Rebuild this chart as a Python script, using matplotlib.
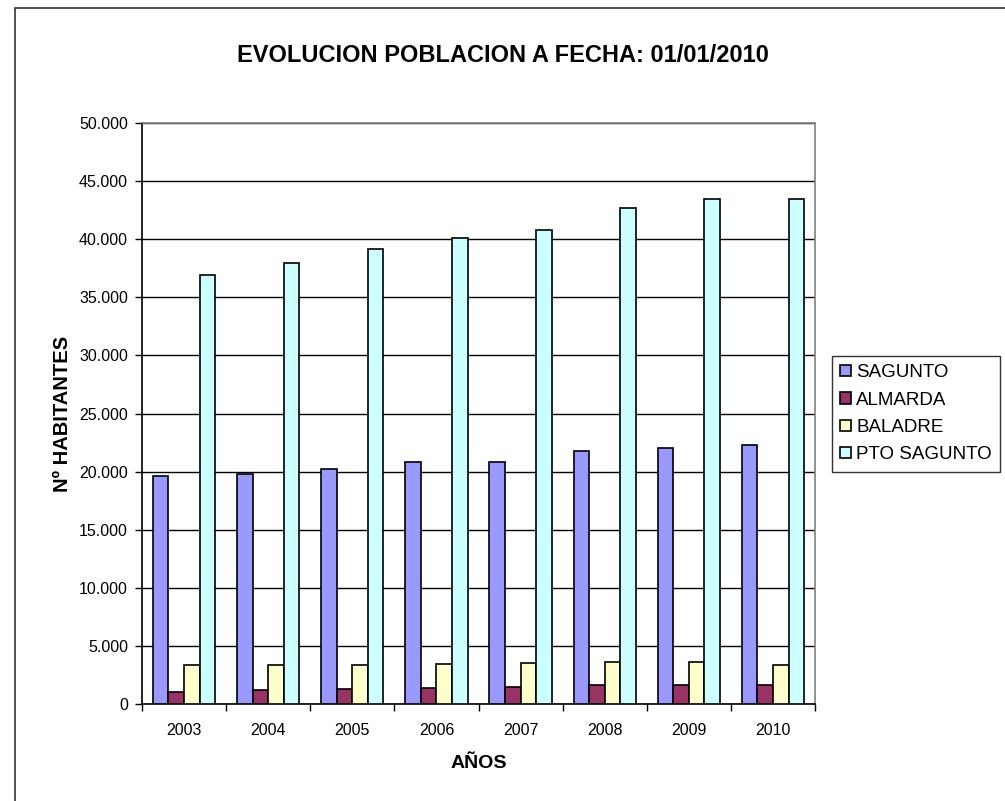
import matplotlib
matplotlib.use('Agg')
import matplotlib.pyplot as plt
import numpy as np
from matplotlib.ticker import FuncFormatter, FixedLocator

plt.rcParams['font.family'] = ['Liberation Sans', 'DejaVu Sans']

years = ['2003', '2004', '2005', '2006', '2007', '2008', '2009', '2010']
sagunto = [19620, 19800, 20250, 20790, 20850, 21730, 22000, 22270]
almarda = [1000, 1180, 1300, 1360, 1480, 1600, 1660, 1600]
baladre = [3380, 3320, 3380, 3440, 3500, 3590, 3650, 3350]
pto_sagunto = [36910, 37940, 39170, 40140, 40800, 42700, 43430, 43430]

series = [
    ('SAGUNTO', sagunto, '#9999FF'),
    ('ALMARDA', almarda, '#993366'),
    ('BALADRE', baladre, '#FFFFCC'),
    ('PTO SAGUNTO', pto_sagunto, '#CCFFFF'),
]

fig = plt.figure(figsize=(10.05, 8.01), dpi=100)
ax = fig.add_axes([142 / 1005, 1 - 704 / 801, (815 - 142) / 1005, (704 - 123) / 801])

# outer chart frame (right/bottom edges fall outside the image)
fig.patches.append(plt.Rectangle((15 / 1005, -0.05), 1.1, 1 - 8 / 801 + 0.05,
                                 transform=fig.transFigure, fill=False,
                                 edgecolor='#333333', linewidth=1.2))

x = np.arange(len(years))
w = 0.185
for i, (name, vals, col) in enumerate(series):
    ax.bar(x + (i - 1.5) * w, vals, w, color=col, edgecolor='black',
           linewidth=1.2, label=name, zorder=3)

ax.set_xlim(-0.5, len(years) - 0.5)
ax.set_ylim(0, 50000)
ax.set_yticks(np.arange(0, 50001, 5000))
ax.yaxis.set_major_formatter(FuncFormatter(lambda v, p: f'{int(v):,}'.replace(',', '.')))
ax.yaxis.grid(True, color='black', linewidth=1.0, zorder=0)
ax.set_axisbelow(True)

# x ticks at category boundaries, labels at centers
ax.xaxis.set_major_locator(FixedLocator(np.arange(-0.5, len(years), 1.0)))
ax.xaxis.set_major_formatter(FuncFormatter(lambda v, p: ''))
ax.xaxis.set_minor_locator(FixedLocator(x))
ax.set_xticklabels(years, minor=True)
ax.tick_params(axis='x', which='minor', length=0, pad=14, labelsize=11.5)
ax.tick_params(axis='x', which='major', length=5, width=1, direction='out')
ax.tick_params(axis='y', length=5, width=1, direction='out', labelsize=11.5, pad=5)

for s in ['top', 'right']:
    ax.spines[s].set_color('#808080')
    ax.spines[s].set_linewidth(1.2)
for s in ['left', 'bottom']:
    ax.spines[s].set_color('black')
    ax.spines[s].set_linewidth(1.2)

ax.set_xlabel('AÑOS', fontsize=14, fontweight='bold', labelpad=12)
ax.set_ylabel('Nº HABITANTES', fontsize=14.5, fontweight='bold', labelpad=5)

fig.text(0.5, 1 - 55 / 801, 'EVOLUCION POBLACION A FECHA: 01/01/2010',
         ha='center', va='center', fontsize=17, fontweight='bold')

leg = ax.legend(loc='upper left', bbox_to_anchor=(832 / 1005, 1 - 356 / 801),
                bbox_transform=fig.transFigure, frameon=True, fancybox=False,
                fontsize=13.5, handlelength=0.55, handleheight=0.55,
                handletextpad=0.3, borderpad=0.45, labelspacing=0.55,
                borderaxespad=0)
leg.get_frame().set_edgecolor('black')
leg.get_frame().set_linewidth(1.0)

fig.savefig('out.png', dpi=100)
